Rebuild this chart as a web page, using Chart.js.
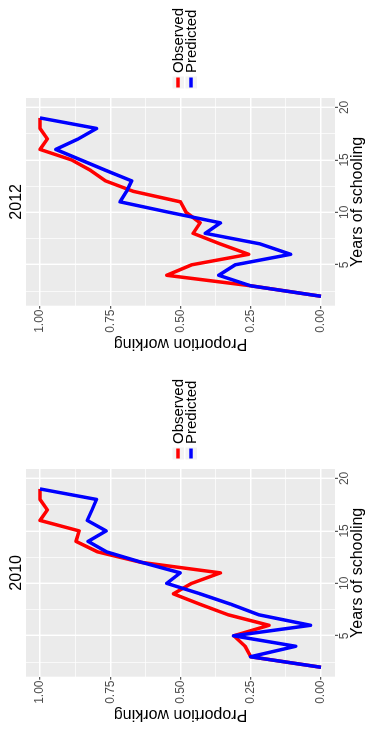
<!DOCTYPE html>
<html>
<head>
<meta charset="utf-8">
<script src="https://cdn.jsdelivr.net/npm/chart.js@4"></script>
<style>
  html, body { margin: 0; padding: 0; background: #fff; overflow: hidden; width: 367px; height: 729px; }
  /* the two panels are laid out landscape, then the whole figure is turned a quarter turn */
  #figure { position: absolute; left: 0; top: 0; width: 729px; height: 367px;
            transform-origin: 0 0; transform: translate(0, 729px) rotate(-90deg); }
  .panel { position: absolute; top: 0; width: 358px; height: 367px; }
  canvas { display: block; }
</style>
</head>
<body>
<div id="figure">
  <div class="panel" style="left:0"><canvas id="c2010" width="358" height="367"></canvas></div>
  <div class="panel" style="left:370.7px"><canvas id="c2012" width="358" height="367"></canvas></div>
</div>
<script>
// Years of schooling (x)
const years = [2, 3, 4, 5, 6, 7, 8, 9, 10, 11, 12, 13, 14, 15, 16, 17, 18, 19];

// Proportion working by years of schooling
const observed2010  = [0, 0.25, 0.27, 0.31, 0.185, 0.33, 0.43, 0.525, 0.46, 0.358, 0.64, 0.795, 0.872, 0.861, 1.0, 0.974, 1.0, 1.0];
const predicted2010 = [0, 0.251, 0.09, 0.311, 0.037, 0.221, 0.32, 0.43, 0.549, 0.501, 0.638, 0.763, 0.829, 0.765, 0.832, 0.815, 0.799, 1.0];
const observed2012  = [0, 0.25, 0.549, 0.46, 0.257, 0.36, 0.455, 0.43, 0.48, 0.50, 0.668, 0.767, 0.82, 0.888, 1.0, 0.974, 1.0, 1.0];
const predicted2012 = [0, 0.251, 0.364, 0.305, 0.108, 0.218, 0.412, 0.358, 0.54, 0.715, 0.692, 0.674, 0.766, 0.855, 0.944, 0.864, 0.799, 1.0];

// Grid positions (major ones carry labels)
const xTicks = [2.5, 5, 7.5, 10, 12.5, 15, 17.5, 20];
const xMajor = [5, 10, 15, 20];
const yTicks = [0, 0.125, 0.25, 0.375, 0.5, 0.625, 0.75, 0.875, 1];
const yMajor = [0, 0.25, 0.5, 0.75, 1];

const seriesNames = ['Observed', 'Predicted'];
const seriesColors = ['#FF0000', '#0000FF'];

Chart.defaults.font.family = "'Liberation Sans', Arial, Helvetica, sans-serif";

const isIn = (list, v) => list.some(m => Math.abs(m - v) < 1e-9);

// grey panel behind the grid
const panelBackground = {
  id: 'panelBackground',
  beforeDraw(chart) {
    const { ctx, chartArea: a } = chart;
    ctx.save();
    ctx.fillStyle = '#EBEBEB';
    ctx.fillRect(a.left, a.top, a.right - a.left, a.bottom - a.top);
    ctx.restore();
  }
};

// legend to the right of the panel: grey key box with a short line, then the label
const keyLegend = {
  id: 'keyLegend',
  afterDraw(chart) {
    const { ctx, chartArea: a } = chart;
    const mid = chart.height / 2 + 1;
    const centers = [mid - 6.5, mid + 6.5];
    ctx.save();
    chart.data.datasets.forEach((ds, i) => {
      const cy = centers[i];
      const kx = a.right + 9.5;
      ctx.fillStyle = '#F2F2F2';
      ctx.fillRect(kx, cy - 5.5, 12, 11.5);
      ctx.strokeStyle = ds.borderColor;
      ctx.lineWidth = 3.5;
      ctx.lineCap = 'butt';
      ctx.beginPath();
      ctx.moveTo(kx + 1, cy);
      ctx.lineTo(kx + 11, cy);
      ctx.stroke();
      ctx.fillStyle = '#000';
      ctx.font = "15px 'Liberation Sans', Arial, sans-serif";
      ctx.textBaseline = 'alphabetic';
      ctx.textAlign = 'left';
      ctx.fillText(ds.label, a.right + 25, cy + 5.4);
    });
    ctx.restore();
  }
};

function buildChart(canvasId, yearTitle, observed, predicted) {
  const series = [observed, predicted];
  return new Chart(document.getElementById(canvasId), {
    type: 'line',
    data: {
      datasets: series.map((vals, i) => ({
        label: seriesNames[i],
        data: years.map((x, k) => ({ x: x, y: vals[k] })),
        borderColor: seriesColors[i],
        backgroundColor: seriesColors[i],
        order: i === 0 ? 2 : 1
      }))
    },
    options: {
      responsive: false,
      animation: false,
      events: [],
      elements: {
        line: { borderWidth: 3.5, tension: 0, borderJoinStyle: 'round', borderCapStyle: 'butt', fill: false },
        point: { radius: 0, hoverRadius: 0 }
      },
      layout: { padding: { left: 0, right: 98, top: 0, bottom: 0 } },
      plugins: {
        legend: { display: false },
        tooltip: { enabled: false },
        title: {
          display: true,
          text: yearTitle,
          fullSize: false,
          color: '#000',
          font: { size: 16, weight: 'normal', lineHeight: 1.2 },
          padding: { top: 6.8, bottom: 0 }
        }
      },
      scales: {
        x: {
          type: 'linear',
          position: 'bottom',
          min: 1.1,
          max: 20.9,
          afterBuildTicks: s => { s.ticks = xTicks.map(v => ({ value: v })); },
          afterFit: s => { s.height = 32; },
          border: { display: false },
          grid: {
            color: '#FFFFFF',
            lineWidth: c => isIn(xMajor, c.tick.value) ? 1.4 : 0.7,
            drawTicks: true,
            tickLength: 3,
            tickWidth: 1,
            tickColor: c => isIn(xMajor, c.tick.value) ? '#333333' : 'rgba(0,0,0,0)'
          },
          ticks: {
            autoSkip: false,
            maxRotation: 0,
            color: '#4D4D4D',
            font: { size: 12 },
            padding: -1,
            callback: v => isIn(xMajor, v) ? String(v) : ''
          },
          title: {
            display: true,
            text: 'Years of schooling',
            color: '#000',
            font: { size: 16, lineHeight: 1.2 },
            padding: { top: 0, bottom: 0 }
          }
        },
        y: {
          type: 'linear',
          position: 'left',
          min: -0.05,
          max: 1.05,
          afterBuildTicks: s => { s.ticks = yTicks.map(v => ({ value: v })); },
          afterFit: s => { s.width = 52.3; },
          border: { display: false },
          grid: {
            color: '#FFFFFF',
            lineWidth: c => isIn(yMajor, c.tick.value) ? 1.4 : 0.7,
            drawTicks: true,
            tickLength: 3,
            tickWidth: 1,
            tickColor: c => isIn(yMajor, c.tick.value) ? '#333333' : 'rgba(0,0,0,0)'
          },
          ticks: {
            autoSkip: false,
            color: '#4D4D4D',
            font: { size: 12 },
            padding: 0.8,
            callback: v => isIn(yMajor, v) ? Number(v).toFixed(2) : ''
          },
          title: {
            display: true,
            text: 'Proportion working',
            color: '#000',
            font: { size: 16, lineHeight: 1.2 },
            padding: { top: 4.7, bottom: 0 }
          }
        }
      }
    },
    plugins: [panelBackground, keyLegend]
  });
}

buildChart('c2010', '2010', observed2010, predicted2010);
buildChart('c2012', '2012', observed2012, predicted2012);
</script>
</body>
</html>
